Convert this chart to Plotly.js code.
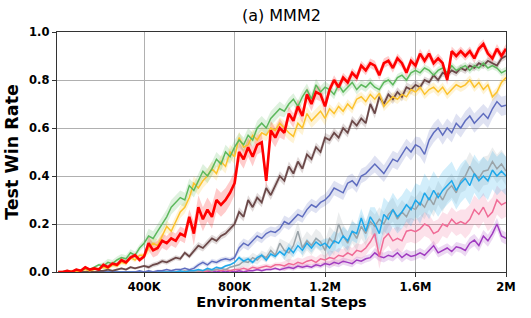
<!DOCTYPE html>
<html>
<head>
<meta charset="utf-8">
<script src="https://cdn.plot.ly/plotly-3.0.1.min.js"></script>
<style>html,body{margin:0;padding:0;background:#fff}#chart{width:531px;height:318px}</style>
</head>
<body>
<div id="chart"></div>
<script>
// Environment steps: one sample every 20K steps, from 20K to 2M
const STEP = 20000;
const N_POINTS = 100;
const tickValues = [400000, 800000, 1200000, 1600000, 2000000];
const tickLabels = ['400K', '800K', '1.2M', '1.6M', '2M'];

// Mean test win rate per series (100 points each)
const redMean = [
  0, 0, 0.005, 0, 0.01, 0.005, 0.02, 0.01, 0.015, 0.01,
  0.03, 0.02, 0.035, 0.03, 0.05, 0.04, 0.06, 0.07, 0.05, 0.065,
  0.12, 0.09, 0.1, 0.13, 0.12, 0.14, 0.13, 0.16, 0.15, 0.23,
  0.16, 0.27, 0.22, 0.26, 0.23, 0.3, 0.28, 0.3, 0.33, 0.37,
  0.5, 0.47, 0.52, 0.48, 0.53, 0.54, 0.38, 0.59, 0.56, 0.6,
  0.58, 0.66, 0.63, 0.69, 0.65, 0.74, 0.7, 0.75, 0.74, 0.69,
  0.76, 0.8, 0.77, 0.81, 0.79, 0.83, 0.81, 0.86, 0.84, 0.87,
  0.86, 0.82, 0.87, 0.88, 0.85, 0.89, 0.87, 0.83, 0.88, 0.86,
  0.91, 0.88, 0.91, 0.87, 0.89, 0.87, 0.8, 0.92, 0.9, 0.92,
  0.9, 0.92, 0.89, 0.93, 0.95, 0.91, 0.89, 0.93, 0.9, 0.93
];
const greenMean = [
  0, 0, 0.005, 0, 0.01, 0.005, 0.015, 0.01, 0.02, 0.03,
  0.025, 0.04, 0.035, 0.05, 0.06, 0.055, 0.08, 0.07, 0.1, 0.12,
  0.15, 0.14, 0.17, 0.2, 0.23, 0.27, 0.29, 0.31, 0.3, 0.36,
  0.34, 0.38, 0.42, 0.4, 0.43, 0.47, 0.45, 0.5, 0.48, 0.52,
  0.55, 0.53, 0.57, 0.55, 0.6, 0.62, 0.6, 0.64, 0.66, 0.68,
  0.67, 0.7, 0.72, 0.69, 0.73, 0.76, 0.72, 0.78, 0.75, 0.77,
  0.76, 0.74, 0.78, 0.75, 0.77, 0.79, 0.76, 0.78, 0.77, 0.79,
  0.77, 0.76, 0.79, 0.8, 0.78, 0.81, 0.82, 0.8, 0.83, 0.84,
  0.83, 0.85, 0.84, 0.82, 0.84, 0.85, 0.83, 0.86, 0.84, 0.85,
  0.86, 0.84, 0.86, 0.85, 0.87, 0.85, 0.86, 0.85, 0.83, 0.84
];
const goldMean = [
  0, 0, 0, 0.005, 0, 0.005, 0.01, 0.005, 0.01, 0.015,
  0.02, 0.015, 0.03, 0.025, 0.04, 0.035, 0.06, 0.05, 0.07, 0.07,
  0.1, 0.12, 0.11, 0.15, 0.19, 0.17, 0.21, 0.25, 0.27, 0.31,
  0.37, 0.35, 0.38, 0.4, 0.43, 0.41, 0.46, 0.44, 0.5, 0.48,
  0.56, 0.52, 0.53, 0.57, 0.55, 0.58, 0.57, 0.6, 0.59, 0.62,
  0.6, 0.58, 0.565, 0.62, 0.6, 0.66, 0.63, 0.65, 0.67, 0.64,
  0.68, 0.66, 0.69, 0.67, 0.7, 0.68, 0.72, 0.73, 0.71, 0.74,
  0.72, 0.745, 0.69, 0.71, 0.73, 0.72, 0.74, 0.73, 0.76, 0.75,
  0.77, 0.74, 0.76, 0.77, 0.75, 0.77, 0.74, 0.76, 0.78, 0.77,
  0.78, 0.8, 0.77, 0.79, 0.76, 0.78, 0.73, 0.75, 0.79, 0.81
];
const brownMean = [
  0, 0, 0, 0, 0, 0, 0, 0.005, 0, 0.005,
  0.005, 0.01, 0.005, 0.01, 0.015, 0.01, 0.02, 0.015, 0.02, 0.025,
  0.02, 0.03, 0.035, 0.045, 0.04, 0.05, 0.06, 0.055, 0.08, 0.065,
  0.09, 0.11, 0.1, 0.12, 0.14, 0.13, 0.15, 0.16, 0.18, 0.2,
  0.25, 0.23, 0.3, 0.27, 0.31, 0.29, 0.35, 0.32, 0.36, 0.4,
  0.38, 0.44, 0.41, 0.46, 0.43, 0.49, 0.47, 0.52, 0.5, 0.56,
  0.55, 0.58, 0.56, 0.6, 0.58, 0.63, 0.61, 0.64, 0.62, 0.7,
  0.66, 0.73, 0.7, 0.74, 0.72, 0.75, 0.73, 0.77, 0.76, 0.78,
  0.77, 0.8, 0.79, 0.82, 0.8, 0.83, 0.82, 0.84, 0.83, 0.85,
  0.84, 0.86, 0.85, 0.87, 0.86, 0.88, 0.87, 0.86, 0.89, 0.9
];
const slateMean = [
  0, 0, 0, 0, 0, 0, 0, 0, 0, 0,
  0, 0, 0, 0, 0, 0, 0, 0, 0.005, 0,
  0.005, 0, 0.005, 0.005, 0.01, 0.005, 0.01, 0.01, 0.015, 0.01,
  0.015, 0.03, 0.04, 0.03, 0.045, 0.04, 0.05, 0.055, 0.05, 0.06,
  0.1, 0.12, 0.11, 0.13, 0.15, 0.14, 0.16, 0.17, 0.165, 0.18,
  0.21, 0.2, 0.22, 0.24, 0.23, 0.26, 0.28, 0.27, 0.29, 0.3,
  0.32, 0.35, 0.34, 0.33, 0.37, 0.38, 0.36, 0.4, 0.41, 0.43,
  0.45, 0.43, 0.41, 0.44, 0.47, 0.46, 0.49, 0.52, 0.5, 0.53,
  0.52, 0.49, 0.55, 0.58, 0.6, 0.57, 0.6, 0.58, 0.62, 0.6,
  0.63, 0.65, 0.62, 0.64, 0.66, 0.64, 0.68, 0.71, 0.69, 0.695
];
const skyMean = [
  0, 0, 0, 0, 0, 0, 0, 0, 0, 0,
  0, 0, 0, 0, 0, 0, 0, 0, 0, 0,
  0, 0, 0, 0, 0, 0, 0, 0.005, 0, 0.005,
  0.005, 0.01, 0.005, 0.015, 0.01, 0.02, 0.015, 0.025, 0.03, 0.04,
  0.06, 0.045, 0.055, 0.04, 0.06, 0.07, 0.05, 0.075, 0.065, 0.085,
  0.07, 0.1, 0.08, 0.11, 0.09, 0.12, 0.1, 0.125, 0.11, 0.12,
  0.1, 0.13, 0.12, 0.15, 0.13, 0.17, 0.16, 0.225, 0.17, 0.23,
  0.2, 0.16, 0.24, 0.22, 0.26, 0.23, 0.25, 0.28, 0.26, 0.3,
  0.28, 0.33, 0.3, 0.34, 0.31, 0.34, 0.36, 0.38, 0.34, 0.37,
  0.39, 0.36, 0.41, 0.38, 0.4, 0.38, 0.425, 0.4, 0.42, 0.4
];
const grayMean = [
  0, 0, 0, 0, 0, 0, 0, 0, 0, 0,
  0, 0, 0, 0, 0, 0, 0, 0, 0, 0,
  0, 0, 0, 0, 0, 0, 0, 0, 0.005, 0,
  0, 0.005, 0.005, 0.01, 0.005, 0.01, 0.015, 0.01, 0.02, 0.025,
  0.03, 0.045, 0.04, 0.06, 0.05, 0.07, 0.06, 0.09, 0.07, 0.12,
  0.09, 0.08, 0.11, 0.17, 0.1, 0.13, 0.11, 0.14, 0.125, 0.09,
  0.14, 0.12, 0.2, 0.15, 0.12, 0.17, 0.14, 0.19, 0.16, 0.21,
  0.19, 0.22, 0.2, 0.24, 0.26, 0.22, 0.25, 0.23, 0.27, 0.26,
  0.29, 0.27, 0.31, 0.28, 0.33, 0.3, 0.34, 0.36, 0.33, 0.38,
  0.4, 0.44, 0.41, 0.39, 0.42, 0.425, 0.46, 0.43, 0.45, 0.42
];
const pinkMean = [
  0, 0, 0, 0, 0, 0, 0, 0, 0, 0,
  0, 0, 0, 0, 0, 0, 0, 0, 0, 0,
  0, 0, 0, 0, 0, 0, 0, 0, 0, 0.005,
  0, 0.005, 0, 0.005, 0.005, 0.01, 0.005, 0.01, 0.005, 0.01,
  0.01, 0.015, 0.01, 0.02, 0.015, 0.02, 0.025, 0.02, 0.03, 0.03,
  0.025, 0.035, 0.03, 0.04, 0.035, 0.045, 0.05, 0.04, 0.055, 0.05,
  0.06, 0.055, 0.07, 0.065, 0.08, 0.07, 0.09, 0.085, 0.1, 0.126,
  0.16, 0.064, 0.14, 0.16, 0.13, 0.14, 0.13, 0.17, 0.175, 0.168,
  0.18, 0.2, 0.19, 0.16, 0.17, 0.2, 0.19, 0.22, 0.2, 0.21,
  0.2, 0.22, 0.26, 0.24, 0.27, 0.23, 0.25, 0.3, 0.28, 0.29
];
const purpleMean = [
  0, 0, 0, 0, 0.005, 0, 0, 0, 0, 0,
  0, 0, 0, 0, 0, 0, 0, 0, 0, 0,
  0, 0, 0, 0, 0, 0, 0, 0, 0, 0,
  0, 0, 0, 0, 0.005, 0, 0.005, 0, 0.005, 0,
  0.005, 0, 0.005, 0.005, 0.01, 0.005, 0.01, 0.01, 0.015, 0.01,
  0.015, 0.02, 0.015, 0.025, 0.02, 0.025, 0.02, 0.03, 0.025, 0.035,
  0.03, 0.04, 0.035, 0.045, 0.04, 0.035, 0.05, 0.045, 0.055, 0.06,
  0.08, 0.065, 0.06, 0.07, 0.064, 0.08, 0.06, 0.075, 0.065, 0.07,
  0.08, 0.07, 0.09, 0.11, 0.08, 0.09, 0.1, 0.085, 0.105, 0.1,
  0.09, 0.12, 0.133, 0.11, 0.15, 0.13, 0.16, 0.2, 0.15, 0.14
];

// Spread (std) per 200K block, 10 blocks per series
const redStd    = [0.005, 0.01, 0.03, 0.05, 0.04, 0.03, 0.02, 0.02, 0.02, 0.02];
const greenStd  = [0.005, 0.015, 0.03, 0.03, 0.03, 0.025, 0.02, 0.015, 0.015, 0.015];
const goldStd   = [0.005, 0.01, 0.025, 0.03, 0.025, 0.03, 0.02, 0.02, 0.02, 0.02];
const brownStd  = [0, 0.005, 0.01, 0.015, 0.02, 0.02, 0.02, 0.02, 0.015, 0.015];
const slateStd  = [0, 0, 0.005, 0.01, 0.02, 0.025, 0.03, 0.035, 0.04, 0.04];
const skyStd    = [0, 0, 0, 0.005, 0.01, 0.02, 0.04, 0.07, 0.08, 0.08];
const grayStd   = [0, 0, 0, 0.005, 0.02, 0.04, 0.05, 0.05, 0.05, 0.06];
const pinkStd   = [0, 0, 0, 0.005, 0.01, 0.02, 0.03, 0.05, 0.05, 0.06];
const purpleStd = [0, 0, 0, 0.005, 0.005, 0.01, 0.015, 0.02, 0.02, 0.025];

const xs = Array.from({length: N_POINTS}, (_, i) => (i + 1) * STEP);

const series = [
  {mean: purpleMean, std: purpleStd, color: '#a03cc0', fill: 'rgba(160,60,192,0.2)', w: 1.5},
  {mean: pinkMean,   std: pinkStd,   color: '#f06b96', fill: 'rgba(240,107,150,0.2)', w: 1.5},
  {mean: grayMean,   std: grayStd,   color: '#9aa3a8', fill: 'rgba(154,163,168,0.2)', w: 1.5},
  {mean: skyMean,    std: skyStd,    color: '#1fa8ea', fill: 'rgba(31,168,234,0.2)', w: 1.5},
  {mean: slateMean,  std: slateStd,  color: '#5f6dbf', fill: 'rgba(95,109,191,0.2)', w: 1.5},
  {mean: brownMean,  std: brownStd,  color: '#6b4848', fill: 'rgba(107,72,72,0.2)', w: 1.8},
  {mean: goldMean,   std: goldStd,   color: '#fcc22c', fill: 'rgba(252,194,44,0.2)', w: 1.5},
  {mean: greenMean,  std: greenStd,  color: '#5cb85c', fill: 'rgba(92,184,92,0.2)', w: 1.5},
  {mean: redMean,    std: redStd,    color: '#ff0000', fill: 'rgba(255,0,0,0.2)', w: 2.6}
];

const traces = [];
series.forEach(s => {
  const up = s.mean.map((v, i) => v + s.std[Math.floor(i / 10)]);
  const lo = s.mean.map((v, i) => v - s.std[Math.floor(i / 10)]);
  traces.push({
    x: xs.concat(xs.slice().reverse()),
    y: up.concat(lo.slice().reverse()),
    type: 'scatter', mode: 'lines', fill: 'toself',
    fillcolor: s.fill, line: {width: 0}, hoverinfo: 'skip', showlegend: false
  });
});
series.forEach(s => {
  traces.push({
    x: xs, y: s.mean, type: 'scatter', mode: 'lines',
    line: {color: s.color, width: s.w}, showlegend: false
  });
});

const axisFont = {family: 'DejaVu Sans', size: 11.5, color: '#000', weight: 'bold'};
const layout = {
  width: 531, height: 318,
  margin: {l: 57, r: 25, t: 32, b: 46},
  paper_bgcolor: '#fff', plot_bgcolor: '#fff',
  showlegend: false,
  title: {text: '(a) MMM2', x: 0.53, xanchor: 'center', y: 0.952, yref: 'container', yanchor: 'middle',
          font: {family: 'DejaVu Sans', size: 16, color: '#000'}},
  xaxis: {
    range: [15000, 2000000], tickvals: tickValues, ticktext: tickLabels,
    tickfont: axisFont, ticks: 'outside', ticklen: 4, tickcolor: '#333',
    showgrid: true, gridcolor: '#b0b0b0', gridwidth: 1,
    showline: true, linecolor: '#333', linewidth: 1.3, mirror: true, zeroline: false,
    title: {text: 'Environmental Steps', standoff: 3,
            font: {family: 'DejaVu Sans', size: 14.5, color: '#000', weight: 'bold'}}
  },
  yaxis: {
    range: [0, 1], dtick: 0.2, tickformat: '.1f',
    tickfont: axisFont, ticks: 'outside', ticklen: 4, tickcolor: '#333',
    showgrid: true, gridcolor: '#b0b0b0', gridwidth: 1,
    showline: true, linecolor: '#333', linewidth: 1.3, mirror: true, zeroline: false,
    title: {text: 'Test Win Rate', standoff: 6,
            font: {family: 'DejaVu Sans', size: 17.5, color: '#000', weight: 'bold'}}
  }
};

Plotly.newPlot('chart', traces, layout, {displayModeBar: false, staticPlot: true});
</script>
</body>
</html>
